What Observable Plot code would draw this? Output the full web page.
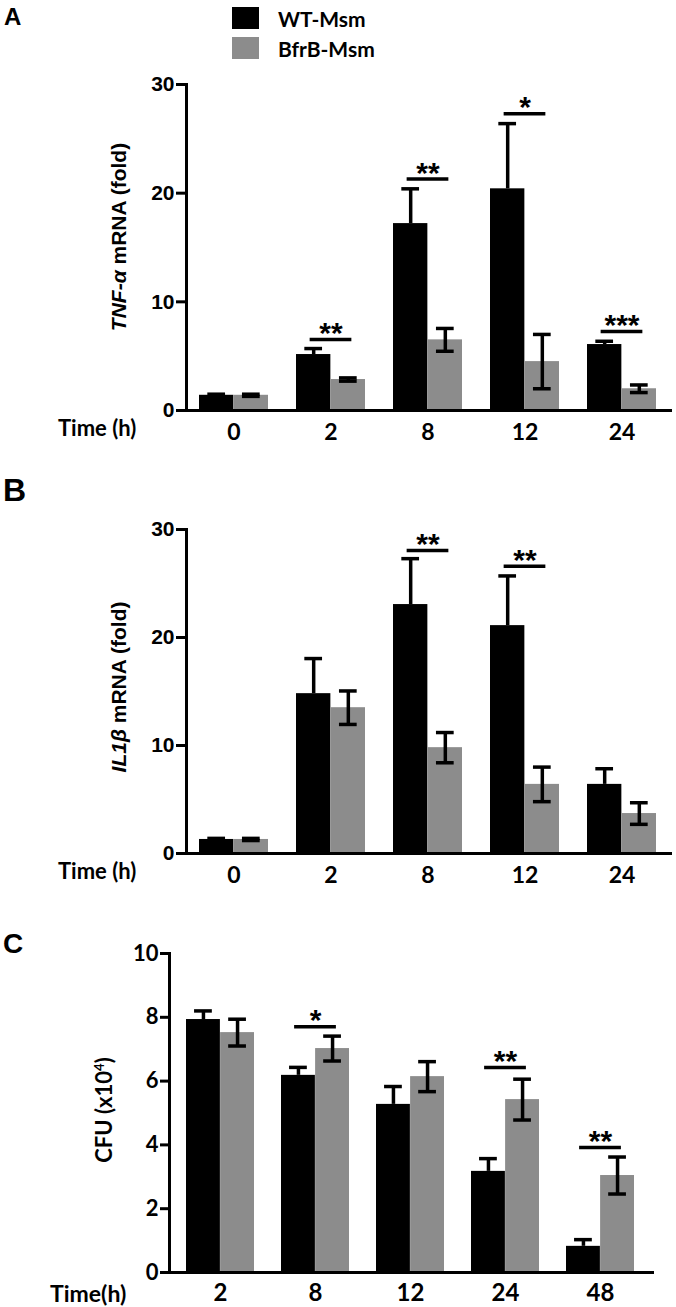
<!DOCTYPE html>
<html><head><meta charset="utf-8">
<script src="https://cdn.jsdelivr.net/npm/d3@7"></script>
<script src="https://cdn.jsdelivr.net/npm/@observablehq/plot@0.6"></script>
<style>
body{margin:0;background:#fff;}
#root{position:relative;width:676px;height:1307px;overflow:hidden;background:#fff;}
.t{position:absolute;white-space:nowrap;line-height:1;color:#000;font-weight:bold;}
.arial{font-family:"Liberation Sans",Arial,sans-serif;}
.cal{font-family:Lato,"Open Sans",sans-serif;}
.rot{transform:translate(-50%,-50%) rotate(-90deg);}
.sw{position:absolute;width:27px;height:22px;}
</style></head><body><div id="root"></div>
<script>
// ---- Data ----
const seriesNames = ["WT-Msm", "BfrB-Msm"];
const seriesColors = ["#000000", "#8c8c8c"];

// Panel A: TNF-α
const tnfTimes = ["0", "2", "8", "12", "24"];
const tnfWT = [1.4, 5.15, 17.2, 20.4, 6.07];
const tnfWTErr = [0.1, 0.55, 3.2, 6.0, 0.3];
const tnfBfrB = [1.4, 2.85, 6.5, 4.5, 2.0];
const tnfBfrBErr = [0.1, 0.15, 1.05, 2.5, 0.35];
const tnfSigTimes = ["2", "8", "12", "24"];
const tnfSigY = [6.53, 21.3, 27.3, 7.27];
const tnfSigText = ["**", "**", "*", "***"];
const tnfYTicks = [0, 10, 20, 30];

// Panel B: IL1β
const ilTimes = ["0", "2", "8", "12", "24"];
const ilWT = [1.3, 14.8, 23.05, 21.1, 6.4];
const ilWTErr = [0.1, 3.25, 4.25, 4.6, 1.45];
const ilBfrB = [1.3, 13.5, 9.8, 6.4, 3.7];
const ilBfrBErr = [0.1, 1.55, 1.4, 1.6, 1.0];
const ilSigTimes = ["8", "12"];
const ilSigY = [28.05, 26.6];
const ilSigText = ["**", "**"];
const ilYTicks = [0, 10, 20, 30];

// Panel C: CFU
const cfuTimes = ["2", "8", "12", "24", "48"];
const cfuWT = [7.93, 6.18, 5.27, 3.17, 0.82];
const cfuWTErr = [0.27, 0.25, 0.56, 0.4, 0.21];
const cfuBfrB = [7.52, 7.02, 6.14, 5.42, 3.04];
const cfuBfrBErr = [0.42, 0.39, 0.47, 0.64, 0.58];
const cfuSigTimes = ["8", "24", "48"];
const cfuSigY = [7.7, 6.43, 3.92];
const cfuSigText = ["*", "**", "**"];
const cfuYTicks = [0, 2, 4, 6, 8, 10];

const root = document.getElementById("root");

function addText(html, cls, style) {
  const d = document.createElement("div");
  d.className = "t " + cls;
  d.innerHTML = html;
  Object.assign(d.style, style);
  root.appendChild(d);
  return d;
}

function panel(o) {
  const n = o.times.length;
  const rows = o.times.map((t, i) => ({
    time: t,
    wt: o.wt[i], wtHi: o.wt[i] + o.wtErr[i], wtLo: o.wt[i] - o.wtErr[i],
    bf: o.bf[i], bfHi: o.bf[i] + o.bfErr[i], bfLo: o.bf[i] - o.bfErr[i]
  }));
  const sig = o.sigTimes.map((t, i) => ({time: t, y: o.sigY[i], text: o.sigText[i]}));
  const step = (o.xRange[1] - o.xRange[0]) / (n - o.pi + 2 * o.po);
  const bw = step * (1 - o.pi);
  const half = bw / 2, off = bw / 4;
  const capIn = (bw - 18) / 2;
  const sigIn = (bw - 42) / 2;
  const sw = 3.5;
  const svg = Plot.plot({
    width: 676, height: o.height,
    marginTop: o.marginTop, marginBottom: o.marginBottom,
    marginLeft: o.marginLeft, marginRight: o.marginRight,
    style: {background: "transparent", overflow: "visible", color: "#000"},
    x: {type: "band", domain: o.times, range: o.xRange, paddingInner: o.pi, paddingOuter: o.po, label: null},
    y: {domain: o.yDomain, label: null},
    marks: [
      Plot.barY(rows, {x: "time", y: "wt", fill: seriesColors[0], insetRight: half, insetLeft: 0}),
      Plot.barY(rows, {x: "time", y: "bf", fill: seriesColors[1], insetLeft: half, insetRight: 0}),
      Plot.ruleX(rows, {x: "time", y1: "wt", y2: "wtHi", dx: -off, stroke: "#000", strokeWidth: sw}),
      Plot.tickY(rows, {x: "time", y: "wtHi", dx: -off, insetLeft: capIn, insetRight: capIn, stroke: "#000", strokeWidth: sw}),
      Plot.ruleX(rows, {x: "time", y1: "bfLo", y2: "bfHi", dx: off, stroke: "#000", strokeWidth: sw}),
      Plot.tickY(rows, {x: "time", y: "bfHi", dx: off, insetLeft: capIn, insetRight: capIn, stroke: "#000", strokeWidth: sw}),
      Plot.tickY(rows, {x: "time", y: "bfLo", dx: off, insetLeft: capIn, insetRight: capIn, stroke: "#000", strokeWidth: sw}),
      Plot.tickY(sig, {x: "time", y: "y", insetLeft: sigIn, insetRight: sigIn, stroke: "#000", strokeWidth: sw}),
      Plot.text(sig, {x: "time", y: "y", text: "text", dy: o.starDy, fontSize: o.starSize, fontWeight: "bold", fontFamily: "Liberation Sans, Arial, sans-serif", fill: "#000"}),
      Plot.frame({anchor: "left", stroke: "#000", strokeWidth: 3}),
      Plot.frame({anchor: "bottom", stroke: "#000", strokeWidth: 3}),
      Plot.axisY({ticks: o.yTicks, tickSize: o.tickSize, tickPadding: 2, strokeWidth: 3, stroke: "#000",
        fontSize: o.yFontSize, fontWeight: "bold", fontFamily: o.yFont, fill: "#000", label: null, tickFormat: d => String(d)}),
      Plot.axisX({tickSize: 0, tickPadding: o.xPad, fontSize: o.xFontSize, fontWeight: "bold",
        fontFamily: "Lato, 'Open Sans', sans-serif", fill: "#000", label: null})
    ]
  });
  svg.style.position = "absolute";
  svg.style.left = "0px";
  svg.style.top = o.top + "px";
  root.appendChild(svg);
}

panel({
  times: tnfTimes, wt: tnfWT, wtErr: tnfWTErr, bf: tnfBfrB, bfErr: tnfBfrBErr,
  sigTimes: tnfSigTimes, sigY: tnfSigY, sigText: tnfSigText, yTicks: tnfYTicks,
  yDomain: [0, 30], top: 0, height: 450, marginTop: 84, marginBottom: 40,
  marginLeft: 186, marginRight: 6, xRange: [186, 669], pi: 0.29, po: 0.12,
  yFont: "Liberation Sans, Arial, sans-serif", yFontSize: 21, tickSize: 10,
  xFontSize: 23, xPad: 13, starSize: 30, starDy: -6
});
panel({
  times: ilTimes, wt: ilWT, wtErr: ilWTErr, bf: ilBfrB, bfErr: ilBfrBErr,
  sigTimes: ilSigTimes, sigY: ilSigY, sigText: ilSigText, yTicks: ilYTicks,
  yDomain: [0, 30], top: 450, height: 450, marginTop: 79, marginBottom: 47,
  marginLeft: 186, marginRight: 6, xRange: [186, 669], pi: 0.29, po: 0.12,
  yFont: "Liberation Sans, Arial, sans-serif", yFontSize: 21, tickSize: 10,
  xFontSize: 23, xPad: 13, starSize: 30, starDy: -6
});
panel({
  times: cfuTimes, wt: cfuWT, wtErr: cfuWTErr, bf: cfuBfrB, bfErr: cfuBfrBErr,
  sigTimes: cfuSigTimes, sigY: cfuSigY, sigText: cfuSigText, yTicks: cfuYTicks,
  yDomain: [0, 10], top: 900, height: 407, marginTop: 53, marginBottom: 35,
  marginLeft: 169, marginRight: 24, xRange: [169, 650], pi: 0.286, po: 0.16,
  yFont: "Lato, 'Open Sans', sans-serif", yFontSize: 22, tickSize: 9,
  xFontSize: 24, xPad: 11, starSize: 30, starDy: -6
});

// Panel letters
addText("A", "arial", {left: "4px", top: "5px", fontSize: "24px"});
addText("B", "arial", {left: "3px", top: "474px", fontSize: "32px"});
addText("C", "arial", {left: "3px", top: "930px", fontSize: "28px"});

// Legend
seriesNames.forEach((name, i) => {
  const s = document.createElement("div");
  s.className = "sw";
  s.style.left = "232px";
  s.style.top = (7 + 30 * i) + "px";
  s.style.background = seriesColors[i];
  root.appendChild(s);
  addText(name, "cal", {left: "278px", top: (18 + 30 * i) + "px", fontSize: "21px", transform: "translateY(-50%)"});
});

// Axis titles
addText("<i>TNF-\u03b1</i> mRNA (fold)", "arial rot", {left: "118px", top: "237px", fontSize: "21px"});
addText("<i>IL1\u03b2</i> mRNA (fold)", "arial rot", {left: "118px", top: "687px", fontSize: "21px"});
addText("CFU (x10<sup style='font-size:0.6em;vertical-align:0.6em'>4</sup>)", "cal rot", {left: "104px", top: "1110px", fontSize: "22px"});

addText("Time (h)", "cal", {left: "58px", top: "428px", fontSize: "22px", transform: "translateY(-50%)"});
addText("Time (h)", "cal", {left: "58px", top: "871px", fontSize: "22px", transform: "translateY(-50%)"});
addText("Time(h)", "cal", {left: "50px", top: "1293px", fontSize: "23px", transform: "translateY(-50%)"});
</script>
</body></html>
